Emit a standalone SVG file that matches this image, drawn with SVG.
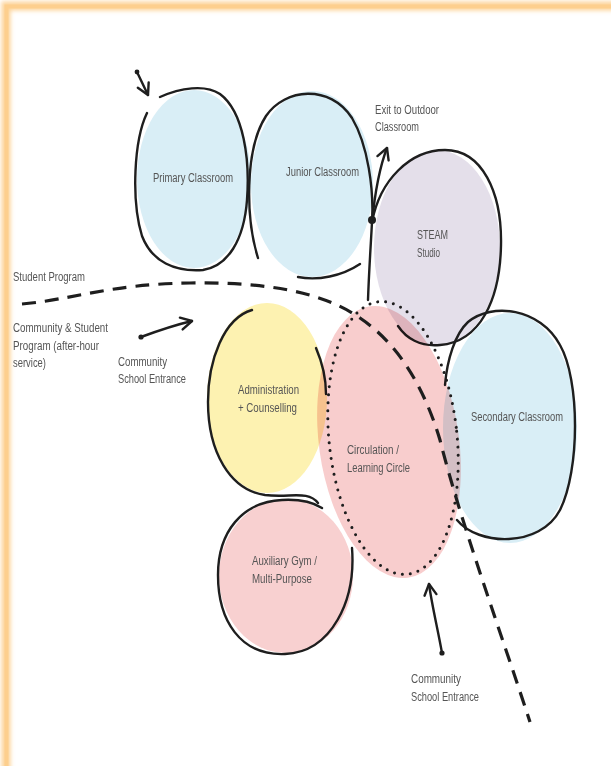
<svg xmlns="http://www.w3.org/2000/svg" width="611" height="766" viewBox="0 0 611 766">
<style>
.lbl{font-family:"Liberation Sans","DejaVu Sans",sans-serif;font-size:12px;fill:#555;}
.ol{fill:none;stroke:#1e1e1e;stroke-width:2.4;stroke-linecap:round;stroke-linejoin:round;}
.arr{fill:none;stroke:#1e1e1e;stroke-width:2.4;stroke-linecap:round;}
.blue{fill:#d9eef6;}
.purple{fill:#e4dfea;}
.yellow{fill:#fdf2b1;}
.pink{fill:#f8d0d0;}
</style>
<defs>
<marker id="chev" markerUnits="userSpaceOnUse" markerWidth="16" markerHeight="16" refX="13" refY="7" orient="auto" viewBox="0 0 16 14">
<path d="M2,1 L13,7 L2,13" fill="none" stroke="#1e1e1e" stroke-width="2.4" stroke-linecap="round" stroke-linejoin="round"/>
</marker>
<filter id="glow" x="-5%" y="-5%" width="110%" height="110%"><feGaussianBlur stdDeviation="2"/></filter>
</defs>
<rect x="0" y="0" width="611" height="766" fill="#fff"/>
<g id="frame">
<rect x="6" y="6" width="640" height="800" fill="none" stroke="#fdd49a" stroke-width="9" filter="url(#glow)"/>
<rect x="6.5" y="6.5" width="640" height="800" fill="none" stroke="#fdcf8e" stroke-width="4"/>
</g>

<g id="primary-classroom">
<ellipse class="blue" cx="194" cy="179" rx="57" ry="89"/>
<path class="ol" d="M147,113 C134,140 131,200 142,236 C152,262 175,272 203,270 C228,266 244,240 247,200 C250,160 244,112 220,94 C205,84 180,88 160,97"/>
<text class="lbl" x="153" y="182" textLength="80" lengthAdjust="spacingAndGlyphs">Primary Classroom</text>
</g>

<g id="junior-classroom">
<ellipse class="blue" cx="312" cy="184" rx="61" ry="93"/>
<path class="ol" d="M258,258 C246,220 244,150 266,116 C285,88 330,84 352,118 C368,145 374,190 372,222"/>
<path class="ol" d="M298,277 C318,281 342,276 360,264"/>
<text class="lbl" x="286" y="176" textLength="73" lengthAdjust="spacingAndGlyphs">Junior Classroom</text>
</g>

<g id="steam-studio">
<ellipse class="purple" cx="437" cy="248" rx="63" ry="98"/>
<path class="ol" d="M372,222 C380,180 410,150 445,150 C482,150 502,192 501,245 C500,300 480,342 440,345 C420,347 406,338 398,326"/>
<text class="lbl" x="417" y="239" textLength="31" lengthAdjust="spacingAndGlyphs">STEAM</text>
<text class="lbl" x="417" y="257" textLength="23" lengthAdjust="spacingAndGlyphs">Studio</text>
</g>

<g id="secondary-classroom">
<ellipse class="blue" cx="510" cy="428" rx="67" ry="115"/>
<path class="ol" d="M457,520 C478,546 540,548 560,510 C580,470 580,380 560,345 C540,308 492,302 468,322 C455,334 447,360 445,385"/>
<text class="lbl" x="471" y="421" textLength="92" lengthAdjust="spacingAndGlyphs">Secondary Classroom</text>
</g>

<g id="administration">
<ellipse class="yellow" cx="267" cy="398" rx="60" ry="95"/>
<path class="ol" d="M252,310 C224,318 208,360 208,402 C208,452 230,490 265,495 C290,498 308,490 318,503"/>
<path class="ol" d="M316,348 C322,362 326,378 326,394"/>
<text class="lbl" x="238" y="394" textLength="61" lengthAdjust="spacingAndGlyphs">Administration</text>
<text class="lbl" x="238" y="412" textLength="59" lengthAdjust="spacingAndGlyphs">+ Counselling</text>
</g>

<g id="auxiliary-gym">
<ellipse class="pink" cx="286" cy="576" rx="67" ry="77"/>
<path class="ol" d="M352,548 C356,600 332,652 285,654 C240,656 218,620 218,575 C218,532 242,502 282,500 C300,499 314,503 322,508"/>
<text class="lbl" x="252" y="565" textLength="65" lengthAdjust="spacingAndGlyphs">Auxiliary Gym /</text>
<text class="lbl" x="252" y="583" textLength="60" lengthAdjust="spacingAndGlyphs">Multi-Purpose</text>
</g>

<g id="circulation">
<ellipse cx="389" cy="442" rx="70" ry="137" transform="rotate(-8 389 442)" fill="#f7c4c4" fill-opacity="0.85" style="mix-blend-mode:multiply"/>
<ellipse cx="393" cy="438" rx="64" ry="137" transform="rotate(-6 393 438)" fill="none" stroke="#1e1e1e" stroke-width="3" stroke-linecap="round" stroke-dasharray="0 8"/>
<text class="lbl" x="347" y="454" textLength="52" lengthAdjust="spacingAndGlyphs">Circulation /</text>
<text class="lbl" x="347" y="472" textLength="63" lengthAdjust="spacingAndGlyphs">Learning Circle</text>
</g>

<g id="labels">
<text class="lbl" x="375" y="114" textLength="64" lengthAdjust="spacingAndGlyphs">Exit to Outdoor</text>
<text class="lbl" x="375" y="131" textLength="44" lengthAdjust="spacingAndGlyphs">Classroom</text>
<text class="lbl" x="13" y="281" textLength="72" lengthAdjust="spacingAndGlyphs">Student Program</text>
<text class="lbl" x="13" y="332" textLength="95" lengthAdjust="spacingAndGlyphs">Community &amp; Student</text>
<text class="lbl" x="13" y="350" textLength="86" lengthAdjust="spacingAndGlyphs">Program (after-hour</text>
<text class="lbl" x="13" y="367" textLength="33" lengthAdjust="spacingAndGlyphs">service)</text>
<text class="lbl" x="118" y="366" textLength="49" lengthAdjust="spacingAndGlyphs">Community</text>
<text class="lbl" x="118" y="383" textLength="68" lengthAdjust="spacingAndGlyphs">School Entrance</text>
<text class="lbl" x="411" y="683" textLength="50" lengthAdjust="spacingAndGlyphs">Community</text>
<text class="lbl" x="411" y="701" textLength="68" lengthAdjust="spacingAndGlyphs">School Entrance</text>
</g>

<g id="connectors">
<path d="M22,304 C70,300 110,284 190,283 C260,282 320,290 360,318 C400,345 425,390 440,440 C460,520 500,630 530,722" fill="none" stroke="#1e1e1e" stroke-width="3.2" stroke-dasharray="14 9" stroke-linecap="butt"/>
<path class="arr" d="M141,337 C160,330 175,325 192,321" marker-end="url(#chev)"/>
<circle cx="141" cy="337" r="2.6" fill="#1e1e1e"/>
<path class="arr" d="M442,653 C438,630 432,606 429,584" marker-end="url(#chev)"/>
<circle cx="442" cy="653" r="2.6" fill="#1e1e1e"/>
<path class="arr" d="M368,300 C369,270 371,242 372,222 C375,192 380,166 387,148" marker-end="url(#chev)"/>
<circle cx="372" cy="220" r="4" fill="#1e1e1e"/>
<path class="arr" d="M137,72 L148,95" marker-end="url(#chev)"/>
<circle cx="137" cy="72" r="2.4" fill="#1e1e1e"/>
</g>
</svg>
